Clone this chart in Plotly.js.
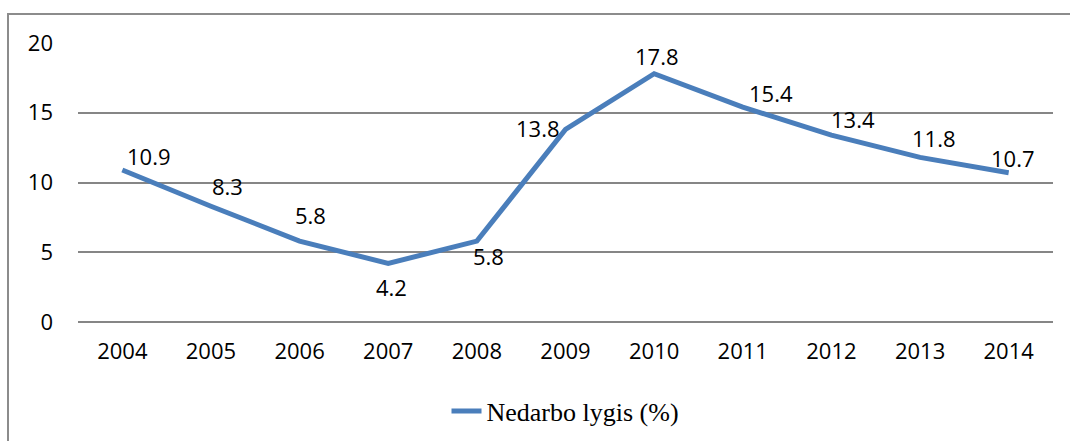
<!DOCTYPE html>
<html>
<head>
<meta charset="utf-8">
<script src="https://cdn.plot.ly/plotly-3.0.1.min.js"></script>
<style>
html,body{margin:0;padding:0;background:#fff;}
#wrap{position:relative;width:1070px;height:441px;overflow:hidden;}
#chart{position:absolute;left:0;top:0;width:1070px;height:441px;}
#frame{position:absolute;left:7px;top:13px;width:1100px;height:500px;border:2px solid #8c8c8c;box-sizing:border-box;pointer-events:none;}
</style>
</head>
<body>
<div id="wrap"><div id="chart"></div><div id="frame"></div></div>
<script>
const years = ['2004','2005','2006','2007','2008','2009','2010','2011','2012','2013','2014'];
const unemployment = [10.9, 8.3, 5.8, 4.2, 5.8, 13.8, 17.8, 15.4, 13.4, 11.8, 10.7];
const seriesName = 'Nedarbo lygis (%)';

// label offsets in pixels (dx, dy) relative to each point
const labelOffsets = [[27,14],[17,20],[11,26],[3,-24],[12,-15],[-28,1],[3,18],[28,14],[22,16],[14,19],[4,15]];

const labelFont = {family: 'Open Sans, sans-serif', size: 22, color: '#000'};

const trace = {
  x: years,
  y: unemployment,
  type: 'scatter',
  mode: 'lines',
  name: seriesName,
  line: {color: '#4a7ebb', width: 5},
  hoverinfo: 'skip'
};

const annotations = years.map((yr, i) => ({
  x: i, y: unemployment[i], xref: 'x', yref: 'y',
  text: unemployment[i].toFixed(1),
  showarrow: false,
  xanchor: 'center', yanchor: 'middle',
  xshift: labelOffsets[i][0], yshift: labelOffsets[i][1],
  font: labelFont
}));

const layout = {
  width: 1070, height: 441,
  margin: {l: 78, r: 17, t: 43, b: 119, autoexpand: false},
  paper_bgcolor: 'rgba(0,0,0,0)',
  plot_bgcolor: 'rgba(0,0,0,0)',
  showlegend: true,
  legend: {
    orientation: 'h', x: 0.5, xanchor: 'center',
    yref: 'container', y: 0.068, yanchor: 'middle',
    font: {family: 'Liberation Serif, Times New Roman, serif', size: 26, color: '#000'}
  },
  annotations: annotations,
  xaxis: {
    type: 'category',
    categoryorder: 'array', categoryarray: years,
    range: [-0.5, years.length - 0.5], autorange: false,
    showgrid: false, zeroline: false, showline: false,
    ticks: '', ticklabelstandoff: 14, automargin: false,
    tickfont: labelFont,
    fixedrange: true
  },
  yaxis: {
    range: [0, 20], autorange: false, dtick: 5, tick0: 0,
    showgrid: true, gridcolor: '#868686', gridwidth: 2,
    zeroline: true, zerolinecolor: '#868686', zerolinewidth: 2,
    showline: false, ticks: '', ticklabelstandoff: 24, automargin: false,
    tickfont: labelFont,
    fixedrange: true
  }
};

Plotly.newPlot('chart', [trace], layout, {displayModeBar: false, staticPlot: true});
</script>
</body>
</html>
